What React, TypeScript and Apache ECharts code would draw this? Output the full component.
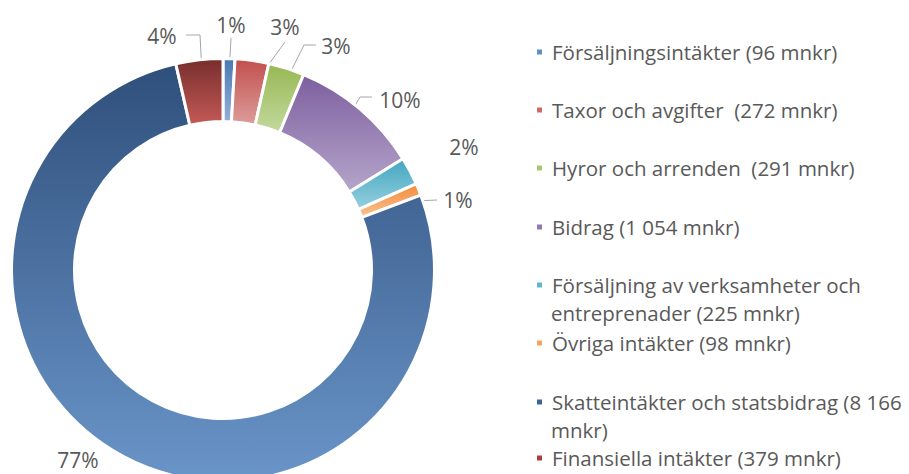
import React, { useEffect, useRef } from "react";
import * as echarts from "echarts";

// ---- data ----
const categories = [
  "Försäljningsintäkter (96 mnkr)",
  "Taxor och avgifter  (272 mnkr)",
  "Hyror och arrenden  (291 mnkr)",
  "Bidrag (1 054 mnkr)",
  "Försäljning av verksamheter och\nentreprenader (225 mnkr)",
  "Övriga intäkter (98 mnkr)",
  "Skatteintäkter och statsbidrag (8 166\nmnkr)",
  "Finansiella intäkter (379 mnkr)",
];
const values = [96, 272, 291, 1054, 225, 98, 8166, 379];

// ---- styles / layout ----
const topColors = ["#4a78b2", "#c24f4c", "#96b853", "#7d5f9f", "#42a6c0", "#f28b3a", "#2f4f7b", "#772e2c"];
const bottomColors = ["#93b1d8", "#dc9d9b", "#c4d99e", "#b5a5ca", "#96d0df", "#fbc290", "#6a95c9", "#c45a57"];
const markerColors = ["#5f8ec8", "#d06a67", "#a9c771", "#9079b3", "#5fb8cf", "#f7a35f", "#3f6598", "#a4413e"];

const FONT = "'Open Sans', Lato, sans-serif";
const FS = 20.5;
const LABEL_FS = 21;
const TEXT = "#595959";
const CX = 223;
const CY = 270;
const ANCHOR_R = 178;
const labelCenters: [number, number][] = [
  [231, 25], [285, 27], [336, 46], [400, 100], [464, 147], [458, 200], [78, 460], [162, 36],
];
const leaderPaths: ([number, number][] | null)[] = [
  [[231, 38]],
  [[285, 42]],
  [[304, 45], [316, 45]],
  [[360, 97], [372, 97]],
  null,
  [[437, 200]],
  null,
  [[200, 35], [186, 35]],
];
const legendCenters = [52, 110, 168, 227, 285, 343, 402, 458];
const LEGEND_LINE = 28;
const LEGEND_LEFT = 535;

export default function App() {
  const ref = useRef<HTMLDivElement>(null);
  useEffect(() => {
    if (!ref.current) return;
    const chart = echarts.init(ref.current, null, { renderer: "svg" });
    const total = values.reduce((a, b) => a + b, 0);
    const anchor = (i: number): [number, number] => {
      let before = 0;
      for (let k = 0; k < i; k++) before += values[k];
      const phi = ((before + values[i] / 2) / total) * Math.PI * 2;
      return [CX + ANCHOR_R * Math.sin(phi), CY - ANCHOR_R * Math.cos(phi)];
    };

    const data = categories.map((name, i) => ({
      name,
      value: values[i],
      itemStyle: {
        color: new echarts.graphic.LinearGradient(0, 0, 0, 1, [
          { offset: 0, color: topColors[i] },
          { offset: 1, color: bottomColors[i] },
        ]),
      },
      labelLine: { show: leaderPaths[i] != null },
    }));

    const legends = categories.map((name, i) => ({
      data: [{ name, icon: "rect", itemStyle: { color: markerColors[i] } }],
      left: LEGEND_LEFT,
      top: legendCenters[i] - 12,
      orient: "vertical",
      itemWidth: 7,
      itemHeight: 7,
      padding: 0,
      selectedMode: false,
      formatter: (n: string) => n.split("\n")[0],
      textStyle: { fontFamily: FONT, fontSize: FS, color: TEXT, lineHeight: 24, padding: [0, 0, 0, 4] },
    }));

    const extraLines: any[] = [];
    categories.forEach((name, i) => {
      const lines = name.split("\n");
      lines.slice(1).forEach((line, j) => {
        extraLines.push({
          type: "text",
          x: LEGEND_LEFT + 7 + 5 + 4,
          y: legendCenters[i] + 3.5 + LEGEND_LINE * (j + 1) - 3.5,
          silent: true,
          style: { text: line, fontFamily: FONT, fontSize: FS, fill: TEXT, verticalAlign: "middle" },
        });
      });
    });

    chart.setOption({
      animation: false,
      backgroundColor: "#ffffff",
      legend: legends,
      graphic: extraLines,
      series: [
        {
          type: "pie",
          center: [CX, CY],
          radius: [148.5, 211.5],
          startAngle: 90,
          clockwise: true,
          avoidLabelOverlap: false,
          silent: true,
          itemStyle: { borderColor: "#ffffff", borderWidth: 3 },
          label: {
            show: true,
            position: "outside",
            fontFamily: FONT,
            fontSize: LABEL_FS,
            color: TEXT,
            formatter: (p: any) => Math.round((p.value / total) * 100) + "%",
          },
          labelLine: { show: true, lineStyle: { color: "#a6a6a6", width: 1 } },
          labelLayout: (p: any) => {
            const i = p.dataIndex;
            const [lx, ly] = labelCenters[i];
            const res: any = { x: lx, y: ly, align: "center", verticalAlign: "middle" };
            const path = leaderPaths[i];
            if (path) {
              const a = anchor(i);
              const pts: number[][] = [a, ...path];
              if (pts.length < 3) pts.splice(1, 0, a);
              res.labelLinePoints = pts;
            }
            return res;
          },
          data,
        },
      ],
    });
    return () => chart.dispose();
  }, []);
  return (
    <div
      ref={ref}
      style={{ position: "fixed", left: 0, top: 0, width: 909, height: 474, background: "#fff" }}
    />
  );
}
